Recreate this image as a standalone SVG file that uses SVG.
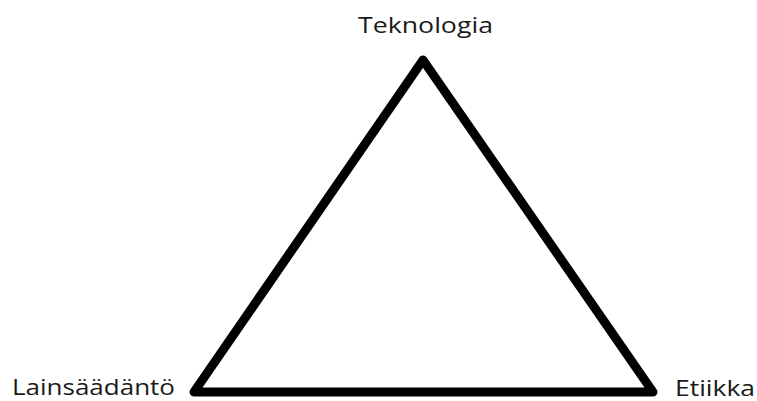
<svg xmlns="http://www.w3.org/2000/svg" width="757" height="401" viewBox="0 0 757 401">
<style>
.lbl{font-family:"Open Sans","Noto Sans",sans-serif;font-size:21px;fill:#1a1a1a}
.edge{fill:none;stroke:#000;stroke-width:9;stroke-linejoin:round}
</style>
<rect width="757" height="401" fill="#fff"/>
<g id="connectors">
<polygon class="edge" points="423,60 194,392 653,392"/>
</g>
<g id="node-teknologia"><text class="lbl" x="358" y="33" textLength="135" lengthAdjust="spacingAndGlyphs">Teknologia</text></g>
<g id="node-lainsaadanto"><text class="lbl" x="12" y="395" textLength="163" lengthAdjust="spacingAndGlyphs">Lainsäädäntö</text></g>
<g id="node-etiikka"><text class="lbl" x="675" y="396" textLength="80" lengthAdjust="spacingAndGlyphs">Etiikka</text></g>
</svg>
